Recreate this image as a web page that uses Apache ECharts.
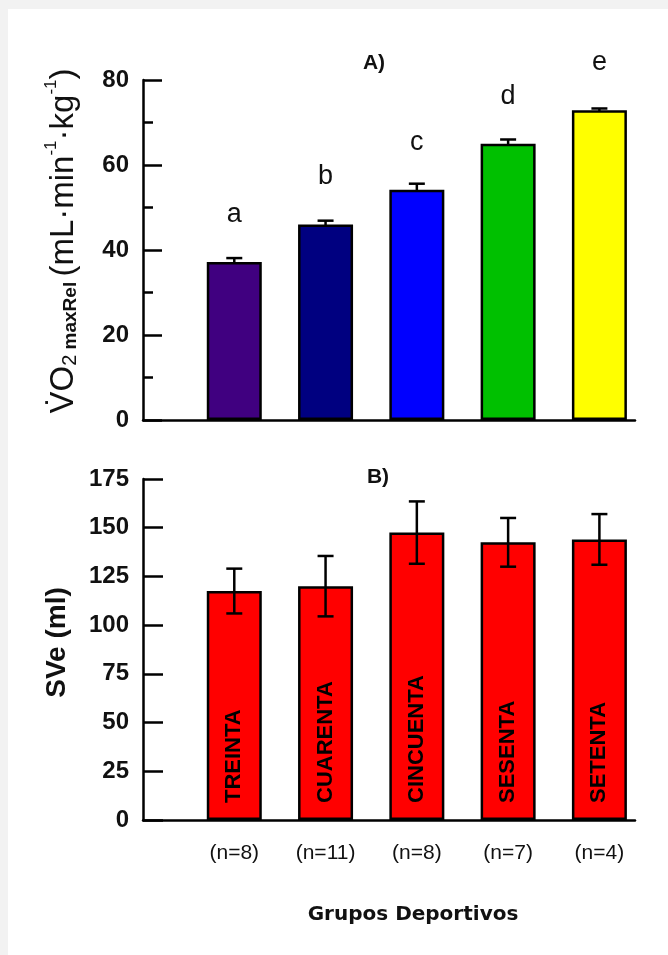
<!DOCTYPE html>
<html>
<head>
<meta charset="utf-8">
<script src="https://cdn.jsdelivr.net/npm/echarts@6/dist/echarts.min.js"></script>
<style>
  html, body { margin: 0; padding: 0; background: #fff; }
  #main { width: 668px; height: 955px; }
</style>
</head>
<body>
<div id="main"></div>
<script>
// groups and sample sizes
const groups = ['TREINTA', 'CUARENTA', 'CINCUENTA', 'SESENTA', 'SETENTA'];
const sampleSizes = ['(n=8)', '(n=11)', '(n=8)', '(n=7)', '(n=4)'];

// panel A: VO2max relative
const vo2Mean = [37.2, 46.0, 54.2, 65.0, 72.9];
const vo2Err = [0.9, 0.9, 1.4, 1.0, 0.4];
const vo2Letters = ['a', 'b', 'c', 'd', 'e'];

// panel B: SVe
const sveMean = [117.5, 120.0, 147.5, 142.5, 144.0];
const sveErr = [11.5, 15.5, 16.0, 12.5, 13.0];

const vo2Colors = ['#400080', '#000080', '#0000ff', '#00c000', '#ffff00'];
const FONT = '"Liberation Sans", Arial, sans-serif';

const chart = echarts.init(document.getElementById('main'));

function errorBars(bottomCap) {
  return function (params, api) {
    const x = api.value(0);
    const top = api.coord([x, api.value(2)]);
    const bot = api.coord([x, api.value(1)]);
    const half = 8;
    const st = { stroke: '#000', lineWidth: 2.5 };
    const kids = [
      { type: 'line', shape: { x1: top[0], y1: top[1], x2: bot[0], y2: bot[1] }, style: st },
      { type: 'line', shape: { x1: top[0] - half, y1: top[1], x2: top[0] + half, y2: top[1] }, style: st }
    ];
    if (bottomCap) {
      kids.push({ type: 'line', shape: { x1: bot[0] - half, y1: bot[1], x2: bot[0] + half, y2: bot[1] }, style: st });
    }
    return { type: 'group', children: kids };
  };
}

const axisLine = { show: true, lineStyle: { color: '#000', width: 2.5 } };

const option = {
  backgroundColor: '#fff',
  animation: false,
  graphic: [
    { type: 'rect', shape: { x: 0, y: 0, width: 668, height: 9 }, style: { fill: '#f2f2f2' } },
    { type: 'rect', shape: { x: 0, y: 0, width: 8, height: 955 }, style: { fill: '#f2f2f2' } }
  ],
  title: [
    { text: 'A)', left: 369, top: 48, textAlign: 'center',
      textStyle: { fontFamily: FONT, fontSize: 21, fontWeight: 'bold', color: '#111' } },
    { text: 'B)', left: 373, top: 462, textAlign: 'center',
      textStyle: { fontFamily: FONT, fontSize: 21, fontWeight: 'bold', color: '#111' } },
    { text: 'Grupos Deportivos', left: 408, top: 900, textAlign: 'center',
      textStyle: { fontFamily: '"DejaVu Sans", sans-serif', fontSize: 20, fontWeight: 'bold', color: '#111' } }
  ],
  grid: [
    { left: 143, right: 33, top: 80, bottom: 535 },
    { left: 143, right: 33, top: 479, bottom: 135 }
  ],
  xAxis: [
    { gridIndex: 0, type: 'value', min: 0, max: 5.39, interval: 1,
      axisLine: axisLine, axisTick: { show: false }, axisLabel: { show: false }, splitLine: { show: false } },
    { gridIndex: 1, type: 'value', min: 0, max: 5.39, interval: 1,
      axisLine: axisLine, axisTick: { show: false }, splitLine: { show: false },
      axisLabel: {
        margin: 23, fontFamily: FONT, fontSize: 21, color: '#111', showMaxLabel: false,
        formatter: v => (Number.isInteger(v) && v >= 1 && v <= 5) ? sampleSizes[v - 1] : ''
      } }
  ],
  yAxis: [
    { gridIndex: 0, type: 'value', min: 0, max: 80, interval: 20,
      axisLine: axisLine,
      axisTick: { show: true, inside: true, length: 19, lineStyle: { color: '#000', width: 2.5 } },
      minorTick: { show: true, splitNumber: 2, length: 10, lineStyle: { color: '#000', width: 2.5 } },
      splitLine: { show: false },
      axisLabel: { margin: 14, fontFamily: FONT, fontSize: 24, fontWeight: 'bold', color: '#111' },
      name: '{big|V̇O}{sub|2}{subb| maxRel }{big|(mL·min}{sup|-1}{big|·kg}{sup|-1}{big|)}',
      nameLocation: 'middle', nameRotate: 90, nameGap: 63,
      nameTextStyle: {
        fontFamily: FONT, color: '#111', padding: [0, 0, 0, 18],
        rich: {
          big: { fontFamily: FONT, fontSize: 33, color: '#111', verticalAlign: 'bottom', lineHeight: 37 },
          sub: { fontFamily: FONT, fontSize: 20, color: '#111', verticalAlign: 'bottom', lineHeight: 37 },
          subb: { fontFamily: FONT, fontSize: 19, fontWeight: 'bold', color: '#111', verticalAlign: 'bottom', lineHeight: 37 },
          sup: { fontFamily: FONT, fontSize: 17, color: '#111', verticalAlign: 'top', lineHeight: 37 }
        }
      } },
    { gridIndex: 1, type: 'value', min: 0, max: 175, interval: 25,
      axisLine: axisLine,
      axisTick: { show: true, inside: true, length: 20, lineStyle: { color: '#000', width: 2.5 } },
      splitLine: { show: false },
      axisLabel: { margin: 14, fontFamily: FONT, fontSize: 24, fontWeight: 'bold', color: '#111' },
      name: 'SVe (ml)', nameLocation: 'middle', nameRotate: 90, nameGap: 72,
      nameTextStyle: { fontFamily: FONT, fontSize: 28, fontWeight: 'bold', color: '#111', padding: [0, 0, 0, 14] } }
  ],
  series: [
    {
      type: 'custom', xAxisIndex: 0, yAxisIndex: 0, z: 1,
      renderItem: errorBars(false),
      encode: { x: 0, y: [1, 2] },
      data: vo2Mean.map((m, i) => [i + 1, m - vo2Err[i], m + vo2Err[i]])
    },
    {
      type: 'bar', xAxisIndex: 0, yAxisIndex: 0, z: 2, barWidth: 55,
      data: vo2Mean.map((m, i) => ({
        value: [i + 1, m],
        itemStyle: { color: vo2Colors[i] }
      })),
      itemStyle: { borderColor: '#000', borderWidth: 2.5 },
      label: {
        show: true, position: 'top', distance: 34,
        fontFamily: FONT, fontSize: 27, color: '#111',
        formatter: p => vo2Letters[p.dataIndex]
      }
    },
    {
      type: 'bar', xAxisIndex: 1, yAxisIndex: 1, z: 2, barWidth: 55,
      data: sveMean.map((m, i) => [i + 1, m]),
      itemStyle: { color: '#ff0000', borderColor: '#000', borderWidth: 2.5 },
      label: {
        show: true, position: 'insideBottom', distance: 17, rotate: 90,
        align: 'left', verticalAlign: 'middle',
        fontFamily: FONT, fontSize: 22, fontWeight: 'bold', color: '#000',
        formatter: p => groups[p.dataIndex]
      }
    },
    {
      type: 'custom', xAxisIndex: 1, yAxisIndex: 1, z: 3,
      renderItem: errorBars(true),
      encode: { x: 0, y: [1, 2] },
      data: sveMean.map((m, i) => [i + 1, m - sveErr[i], m + sveErr[i]])
    }
  ]
};

chart.setOption(option);
window.addEventListener('resize', () => chart.resize());
</script>
</body>
</html>
